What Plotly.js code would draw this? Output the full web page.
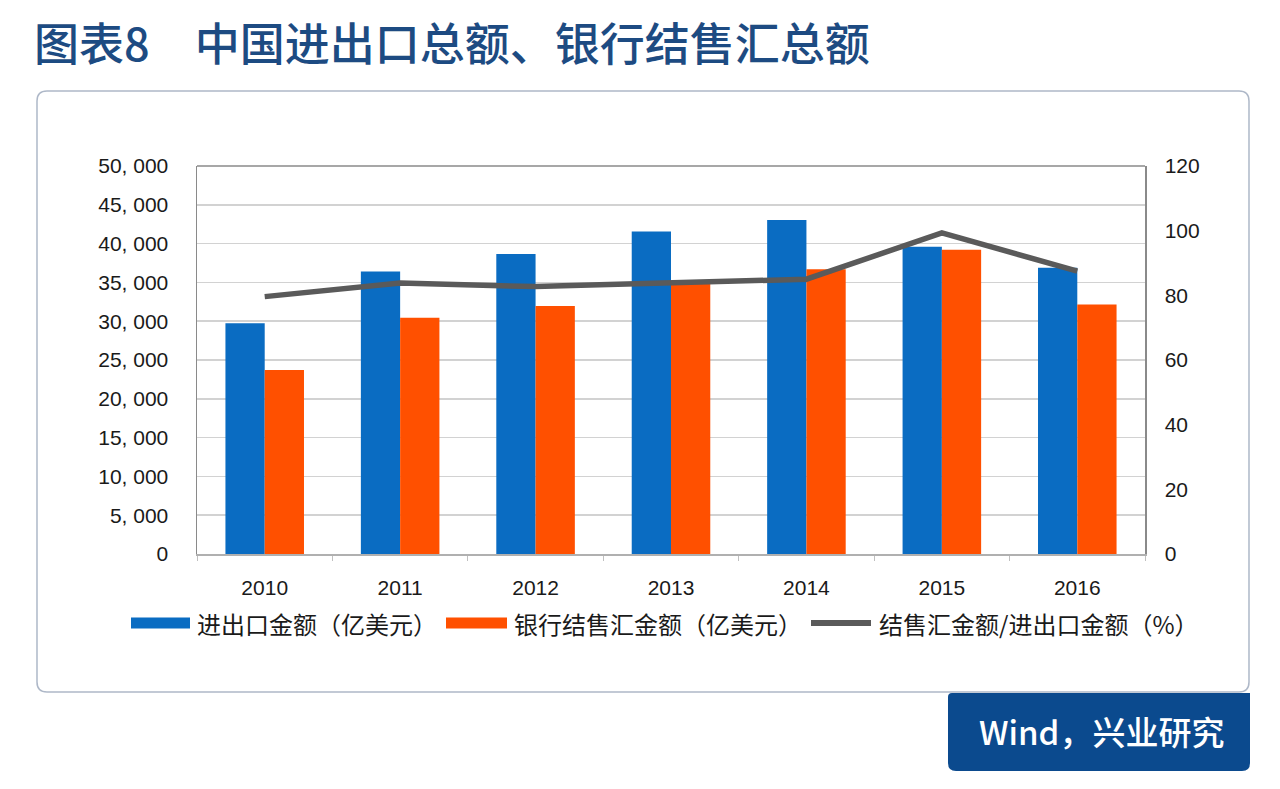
<!DOCTYPE html>
<html>
<head>
<meta charset="utf-8">
<script src="https://cdn.plot.ly/plotly-3.0.1.min.js"></script>
<style>html,body{margin:0;padding:0;background:#fff;}#chart{width:1280px;height:789px;}</style>
</head>
<body>
<div id="chart"></div>
<script>
// ---- data ----
const years = ['2010','2011','2012','2013','2014','2015','2016'];
const tradeTotal = [29740, 36420, 38670, 41550, 43030, 39580, 36880];      // 进出口金额（亿美元）
const fxSettlement = [23700, 30450, 31950, 34900, 36700, 39200, 32150];    // 银行结售汇金额（亿美元）
const ratioPct = [79.6, 83.8, 82.7, 84.0, 85.0, 99.3, 87.5];               // 结售汇金额/进出口金额（%）
const seriesNames = ['进出口金额（亿美元）', '银行结售汇金额（亿美元）', '结售汇金额/进出口金额（%）'];
const yTickVals = [0,5000,10000,15000,20000,25000,30000,35000,40000,45000,50000];
const yTickText = ['0','5, 000','10, 000','15, 000','20, 000','25, 000','30, 000','35, 000','40, 000','45, 000','50, 000'];
const y2TickVals = [0,20,40,60,80,100,120];
const titleText = '图表8　中国进出口总额、银行结售汇总额';
const sourceText = 'Wind，兴业研究';

// ---- layout geometry (pixels) ----
const W = 1280, H = 789;
const L = 197, R = 1145, T = 166, B = 554;
const px = x => (x - L) / (R - L);
const py = y => (B - y) / (B - T);
function pt(x, y) { return px(x).toFixed(5) + ',' + py(y).toFixed(5); }
function roundRect(x0, y0, x1, y1, r) {
  // r = [tl, tr, br, bl]
  let p = 'M' + pt(x0 + r[0], y0) + ' L' + pt(x1 - r[1], y0) + ' Q' + pt(x1, y0) + ' ' + pt(x1, y0 + r[1]);
  p += ' L' + pt(x1, y1 - r[2]) + ' Q' + pt(x1, y1) + ' ' + pt(x1 - r[2], y1);
  p += ' L' + pt(x0 + r[3], y1) + ' Q' + pt(x0, y1) + ' ' + pt(x0, y1 - r[3]);
  p += ' L' + pt(x0, y0 + r[0]) + ' Q' + pt(x0, y0) + ' ' + pt(x0 + r[0], y0) + ' Z';
  return p;
}

const blue = '#0a6cc2', orange = '#ff5000', grey = '#5a5a5a';
const tickFont = {family: 'Liberation Sans, Arial, sans-serif', size: 21, color: '#1a1a1a'};
const cjk = 'Noto Sans CJK SC, sans-serif';

const traces = [
  {type: 'bar', x: years, y: tradeTotal, name: seriesNames[0], marker: {color: blue}, showlegend: false},
  {type: 'bar', x: years, y: fxSettlement, name: seriesNames[1], marker: {color: orange}, showlegend: false},
  {type: 'scatter', mode: 'lines', x: years, y: ratioPct, yaxis: 'y2', name: seriesNames[2],
   line: {color: grey, width: 5.5}, showlegend: false}
];

// custom legend (long swatches like the reference)
const legY = 623;
const legItems = [
  {x0: 131, x1: 190, tx: 195, color: blue, kind: 'bar'},
  {x0: 446, x1: 507, tx: 512, color: orange, kind: 'bar'},
  {x0: 811, x1: 871, tx: 877, color: grey, kind: 'line'}
];

const shapes = [
  {type: 'path', xref: 'paper', yref: 'paper', layer: 'below', path: roundRect(37, 91, 1249, 692, [10,10,10,10]),
   line: {color: '#aeb8c8', width: 1.5}, fillcolor: '#ffffff'},
  {type: 'path', xref: 'paper', yref: 'paper', layer: 'above', path: roundRect(948, 693, 1250, 771, [4,0,8,8]),
   line: {width: 0}, fillcolor: '#0b4a8e'},
  // top border of the plot frame
  {type: 'line', xref: 'paper', yref: 'paper', x0: 0, x1: 1, y0: 1, y1: 1, line: {color: '#8a8a8a', width: 1.5}}
];

const annotations = [];
legItems.forEach((it, i) => {
  if (it.kind === 'bar') {
    shapes.push({type: 'rect', xref: 'paper', yref: 'paper', x0: px(it.x0), x1: px(it.x1),
      y0: py(legY + 5.5), y1: py(legY - 5.5), fillcolor: it.color, line: {width: 0}});
  } else {
    shapes.push({type: 'line', xref: 'paper', yref: 'paper', x0: px(it.x0), x1: px(it.x1),
      y0: py(legY), y1: py(legY), line: {color: it.color, width: 6}});
  }
  annotations.push({xref: 'paper', yref: 'paper', x: px(it.tx), y: py(legY), xanchor: 'left', yanchor: 'middle',
    text: seriesNames[i], showarrow: false, font: {family: cjk, size: 24, color: '#1a1a1a'}});
});
annotations.push({xref: 'paper', yref: 'paper', x: px(1101), y: py(731), xanchor: 'center', yanchor: 'middle',
  text: sourceText, showarrow: false, font: {family: cjk, size: 33, color: '#ffffff', weight: 500}});

const layout = {
  width: W, height: H,
  margin: {l: L, r: W - R, t: T, b: H - B, pad: 0},
  paper_bgcolor: '#ffffff', plot_bgcolor: 'rgba(0,0,0,0)',
  title: {text: titleText, x: 34 / W, xref: 'container', xanchor: 'left', y: 1 - 45 / H, yref: 'container', yanchor: 'middle',
    font: {family: cjk, size: 45, color: '#1d4b82', weight: 500}},
  barmode: 'group', bargap: 0.42, bargroupgap: 0,
  showlegend: false,
  xaxis: {type: 'category', showline: true, linecolor: '#b0b0b0', linewidth: 1.5, mirror: false,
    ticks: 'outside', tickson: 'boundaries', ticklen: 5, tickcolor: '#c0c0c0',
    ticklabelstandoff: 14, tickfont: tickFont, showgrid: false, fixedrange: true},
  yaxis: {range: [0, 50000], tickvals: yTickVals, ticktext: yTickText, showgrid: true, gridcolor: '#d2d2d2', gridwidth: 1.5,
    showline: true, linecolor: '#8a8a8a', linewidth: 1.5, mirror: false, ticks: '', ticklabelstandoff: 23,
    tickfont: tickFont, zeroline: false, fixedrange: true},
  yaxis2: {range: [0, 120], tickvals: y2TickVals, overlaying: 'y', side: 'right', showgrid: false,
    showline: true, linecolor: '#8a8a8a', linewidth: 1.5, ticks: '', ticklabelstandoff: 14,
    tickfont: tickFont, zeroline: false, fixedrange: true},
  shapes: shapes,
  annotations: annotations
};

Plotly.newPlot('chart', traces, layout, {displayModeBar: false, staticPlot: true});
</script>
</body>
</html>
